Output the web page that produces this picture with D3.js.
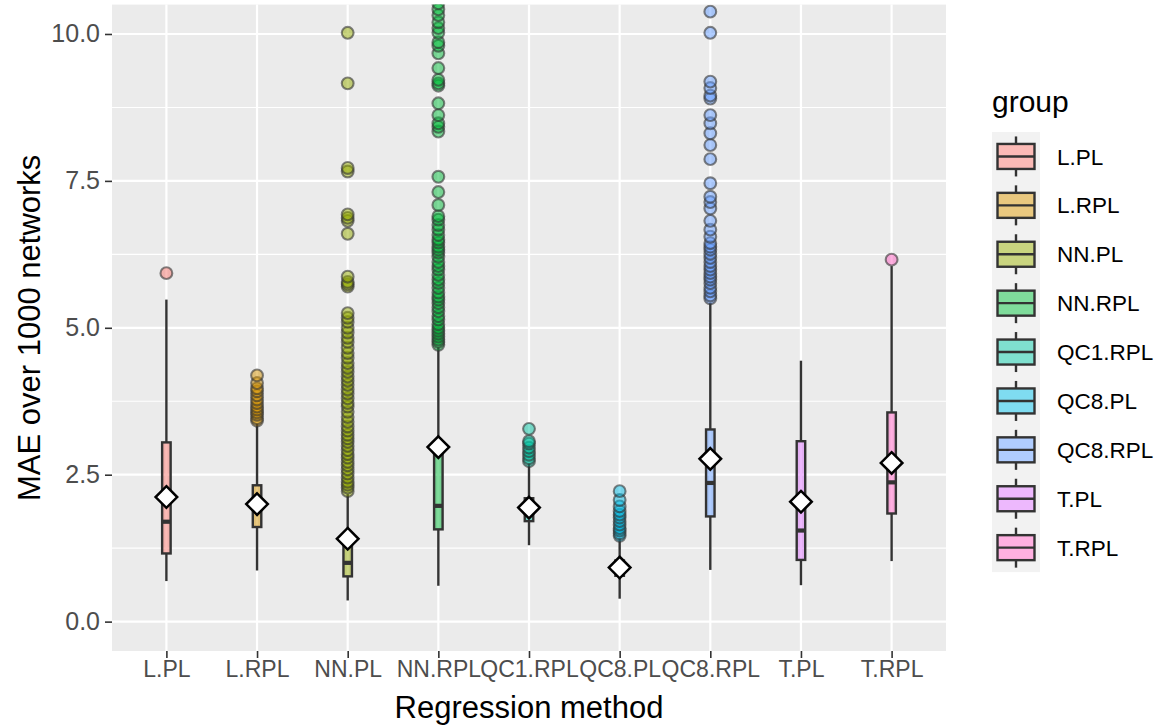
<!DOCTYPE html>
<html>
<head>
<meta charset="utf-8">
<script src="https://cdn.jsdelivr.net/npm/d3@7"></script>
<style>
  html, body { margin: 0; padding: 0; background: #fff; }
  svg { display: block; font-family: "Liberation Sans", Arial, sans-serif; }
</style>
</head>
<body>
<svg id="chart" width="1175" height="727"></svg>
<script>
// ---- data ----
const categories = ["L.PL", "L.RPL", "NN.PL", "NN.RPL", "QC1.RPL", "QC8.PL", "QC8.RPL", "T.PL", "T.RPL"];
const colors = ["#F8766D", "#D39200", "#93AA00", "#00BA38", "#00C19F", "#00B9E3", "#619CFF", "#DB72FB", "#FF61C3"];
const q1 =          [1.16, 1.61, 0.77, 1.57, 1.71, 0.78, 1.79, 1.05, 1.84];
const medians =     [1.70, 1.93, 1.00, 1.97, 1.90, 0.88, 2.36, 1.55, 2.37];
const q3 =          [3.05, 2.32, 1.32, 2.88, 2.10, 1.04, 3.27, 3.07, 3.56];
const whiskerLow =  [0.69, 0.87, 0.36, 0.61, 1.30, 0.39, 0.88, 0.62, 1.03];
const whiskerHigh = [5.48, 3.37, 2.17, 4.67, 2.69, 1.42, 5.43, 4.44, 6.05];
const means =       [2.12, 2.00, 1.41, 2.97, 1.94, 0.92, 2.77, 2.04, 2.70];

const outliersLPL = [5.93];
const outliersLRPL = [3.42, 3.46, 3.52, 3.56, 3.61, 3.66, 3.72, 3.78, 3.85, 3.92, 3.97, 4.06, 4.19];
const outliersNNPL = [2.22, 2.28, 2.33, 2.38, 2.45, 2.52, 2.59, 2.66, 2.72, 2.79, 2.85, 2.92, 2.99, 3.06,
  3.12, 3.18, 3.25, 3.32, 3.40, 3.48, 3.57, 3.66, 3.72, 3.80, 3.88, 3.95, 4.03, 4.10, 4.17, 4.25, 4.32,
  4.40, 4.49, 4.57, 4.66, 4.76, 4.83, 4.92, 5.00, 5.10, 5.17, 5.25, 5.70, 5.74, 5.78, 5.87, 6.60, 6.82,
  6.87, 6.93, 7.66, 7.72, 9.16, 10.02];
const outliersNNRPL = [4.71, 4.76, 4.80, 4.85, 4.90, 4.95, 5.00, 5.06, 5.14, 5.20, 5.28, 5.35, 5.42, 5.48,
  5.53, 5.60, 5.68, 5.76, 5.82, 5.90, 5.99, 6.05, 6.12, 6.21, 6.28, 6.33, 6.38, 6.45, 6.50, 6.58, 6.67,
  6.75, 6.84, 6.90, 7.09, 7.31, 7.57, 8.34, 8.42, 8.48, 8.62, 8.82, 9.12, 9.16, 9.22, 9.42, 9.67, 9.80,
  9.86, 10.02, 10.10, 10.20, 10.32, 10.42, 10.52];
const outliersQC1RPL = [2.73, 2.78, 2.84, 2.90, 2.96, 3.03, 3.07, 3.28];
const outliersQC8PL = [1.46, 1.50, 1.55, 1.59, 1.65, 1.71, 1.77, 1.82, 1.88, 1.96, 2.07, 2.22];
const outliersQC8RPL = [5.50, 5.55, 5.62, 5.68, 5.76, 5.82, 5.87, 5.93, 5.99, 6.05, 6.12, 6.19, 6.26,
  6.33, 6.38, 6.44, 6.55, 6.67, 6.82, 7.03, 7.14, 7.23, 7.46, 7.87, 8.11, 8.31, 8.48, 8.62, 8.90, 8.95,
  9.08, 9.19, 10.02, 10.38];
const outliersTPL = [];
const outliersTRPL = [6.16];
const outliers = [outliersLPL, outliersLRPL, outliersNNPL, outliersNNRPL, outliersQC1RPL,
  outliersQC8PL, outliersQC8RPL, outliersTPL, outliersTRPL];

const yTicks = [0, 2.5, 5, 7.5, 10];
const yMinor = [1.25, 3.75, 6.25, 8.75];

// ---- layout ----
const svg = d3.select("#chart");
const panel = { left: 112, right: 946, top: 4.6, bottom: 651 };

const x = d3.scalePoint().domain(categories)
  .range([panel.left, panel.right]).padding(0.6);
const y = d3.scaleLinear().domain([-0.5, 10.5]).range([panel.bottom, panel.top]);

const defs = svg.append("defs");
defs.append("clipPath").attr("id", "clip").append("rect")
  .attr("x", panel.left).attr("y", panel.top)
  .attr("width", panel.right - panel.left).attr("height", panel.bottom - panel.top);

svg.append("rect").attr("x", panel.left).attr("y", panel.top)
  .attr("width", panel.right - panel.left).attr("height", panel.bottom - panel.top)
  .attr("fill", "#EBEBEB");

const grid = svg.append("g");
grid.selectAll(".minor").data(yMinor).enter().append("line")
  .attr("x1", panel.left).attr("x2", panel.right)
  .attr("y1", d => y(d)).attr("y2", d => y(d))
  .attr("stroke", "#fff").attr("stroke-width", 1.1);
grid.selectAll(".major").data(yTicks).enter().append("line")
  .attr("x1", panel.left).attr("x2", panel.right)
  .attr("y1", d => y(d)).attr("y2", d => y(d))
  .attr("stroke", "#fff").attr("stroke-width", 2.2);
grid.selectAll(".vmajor").data(categories).enter().append("line")
  .attr("y1", panel.top).attr("y2", panel.bottom)
  .attr("x1", d => x(d)).attr("x2", d => x(d))
  .attr("stroke", "#fff").attr("stroke-width", 2.2);

// ---- boxes ----
const plot = svg.append("g").attr("clip-path", "url(#clip)");
const bw = 8.5;
const lineCol = "#333333";

categories.forEach((c, i) => {
  const g = plot.append("g");
  const cx = x(c);
  g.append("line").attr("x1", cx).attr("x2", cx)
    .attr("y1", y(q3[i])).attr("y2", y(whiskerHigh[i]))
    .attr("stroke", lineCol).attr("stroke-width", 2.4);
  g.append("line").attr("x1", cx).attr("x2", cx)
    .attr("y1", y(q1[i])).attr("y2", y(whiskerLow[i]))
    .attr("stroke", lineCol).attr("stroke-width", 2.4);
  g.append("rect").attr("x", cx - bw / 2).attr("width", bw)
    .attr("y", y(q3[i])).attr("height", y(q1[i]) - y(q3[i]))
    .attr("fill", colors[i]).attr("fill-opacity", 0.5)
    .attr("stroke", lineCol).attr("stroke-width", 2.4);
  g.append("line").attr("x1", cx - bw / 2).attr("x2", cx + bw / 2)
    .attr("y1", y(medians[i])).attr("y2", y(medians[i]))
    .attr("stroke", lineCol).attr("stroke-width", 4.2);
  g.selectAll("circle").data(outliers[i]).enter().append("circle")
    .attr("cx", cx).attr("cy", d => y(d)).attr("r", 5.9)
    .attr("fill", colors[i]).attr("fill-opacity", 0.5)
    .attr("stroke", lineCol).attr("stroke-opacity", 0.6).attr("stroke-width", 2.1);
});

plot.selectAll(".mean").data(categories).enter().append("path")
  .attr("d", (c, i) => {
    const cx = x(c), cy = y(means[i]), r = 10.8;
    return `M${cx},${cy - r}L${cx + r},${cy}L${cx},${cy + r}L${cx - r},${cy}Z`;
  })
  .attr("fill", "#fff").attr("stroke", "#000").attr("stroke-width", 2.5)
  .attr("stroke-linejoin", "miter");

// ---- axes ----
const yAxis = svg.append("g").attr("transform", `translate(${panel.left},0)`)
  .call(d3.axisLeft(y).tickValues(yTicks).tickFormat(d3.format(".1f")).tickSize(7).tickPadding(5));
yAxis.select(".domain").remove();
yAxis.selectAll(".tick line").attr("stroke", lineCol).attr("stroke-width", 1.6);
yAxis.selectAll(".tick text").attr("fill", "#4D4D4D").style("font-size", "25px")
  .style("font-family", "'Liberation Sans', Arial, sans-serif");

const xAxis = svg.append("g").attr("transform", `translate(0,${panel.bottom})`)
  .call(d3.axisBottom(x).tickSize(7).tickPadding(3));
xAxis.select(".domain").remove();
xAxis.selectAll(".tick line").attr("stroke", lineCol).attr("stroke-width", 1.6);
xAxis.selectAll(".tick text").attr("fill", "#4D4D4D").style("font-size", "23px")
  .style("font-family", "'Liberation Sans', Arial, sans-serif");

svg.append("text").attr("x", (panel.left + panel.right) / 2).attr("y", 718)
  .attr("text-anchor", "middle").style("font-size", "31px").attr("fill", "#000")
  .text("Regression method");
svg.append("text")
  .attr("transform", `translate(40,${(panel.top + panel.bottom) / 2}) rotate(-90)`)
  .attr("text-anchor", "middle").style("font-size", "31px").attr("fill", "#000")
  .text("MAE over 1000 networks");

// ---- legend ----
const leg = svg.append("g");
const legX = 992, legY = 132, keyW = 48, keyH = 48.9;
leg.append("text").attr("x", legX).attr("y", 112).style("font-size", "30px")
  .attr("fill", "#000").text("group");
leg.append("rect").attr("x", legX).attr("y", legY).attr("width", keyW)
  .attr("height", keyH * categories.length).attr("fill", "#F2F2F2");
categories.forEach((c, i) => {
  const cy = legY + keyH * i + keyH / 2;
  const cx = legX + keyW / 2;
  leg.append("line").attr("x1", cx).attr("x2", cx).attr("y1", cy - 20).attr("y2", cy + 20)
    .attr("stroke", lineCol).attr("stroke-width", 2.4);
  leg.append("rect").attr("x", cx - 18.5).attr("y", cy - 12.5).attr("width", 37).attr("height", 25)
    .attr("fill", "#fff");
  leg.append("rect").attr("x", cx - 18.5).attr("y", cy - 12.5).attr("width", 37).attr("height", 25)
    .attr("fill", colors[i]).attr("fill-opacity", 0.5)
    .attr("stroke", lineCol).attr("stroke-width", 2.4);
  leg.append("line").attr("x1", cx - 18.5).attr("x2", cx + 18.5).attr("y1", cy).attr("y2", cy)
    .attr("stroke", lineCol).attr("stroke-width", 2.4);
  leg.append("text").attr("x", 1057).attr("y", cy).attr("dy", "0.36em")
    .style("font-size", "22.5px").attr("fill", "#000").text(c);
});
</script>
</body>
</html>
